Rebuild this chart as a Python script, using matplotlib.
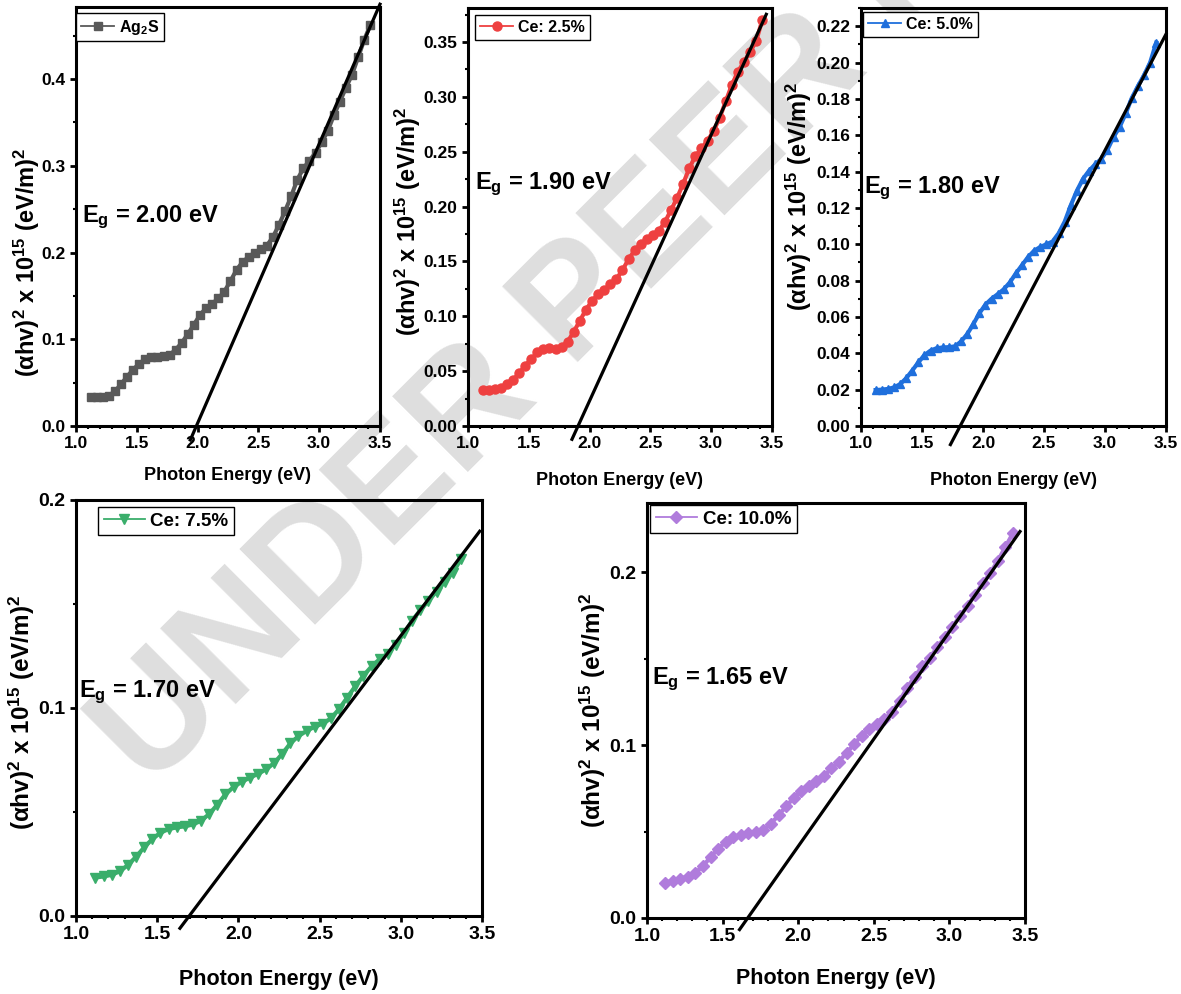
import matplotlib
matplotlib.use("Agg")
import matplotlib.pyplot as plt
from matplotlib.ticker import MultipleLocator, AutoMinorLocator, FormatStrFormatter
import numpy as np

# photon energy grid (eV)
energy = [1.12, 1.17, 1.22, 1.27, 1.32, 1.37, 1.42, 1.47, 1.52, 1.57,
          1.62, 1.67, 1.72, 1.77, 1.82, 1.87, 1.92, 1.97, 2.02, 2.07,
          2.12, 2.17, 2.22, 2.27, 2.32, 2.37, 2.42, 2.47, 2.52, 2.57,
          2.62, 2.67, 2.72, 2.77, 2.82, 2.87, 2.92, 2.97, 3.02, 3.07,
          3.12, 3.17, 3.22, 3.27, 3.32, 3.37, 3.42]

y_ag2s = [0.033, 0.033, 0.034, 0.035, 0.040, 0.048, 0.057, 0.065, 0.072, 0.077,
          0.0795, 0.080, 0.0805, 0.082, 0.088, 0.096, 0.106, 0.117, 0.128, 0.136,
          0.141, 0.147, 0.155, 0.167, 0.180, 0.189, 0.195, 0.200, 0.204, 0.208,
          0.218, 0.232, 0.248, 0.265, 0.284, 0.297, 0.306, 0.315, 0.327, 0.340,
          0.358, 0.374, 0.390, 0.405, 0.425, 0.445, 0.462]

y_ce25 = [0.033, 0.033, 0.0335, 0.035, 0.038, 0.042, 0.048, 0.055, 0.061, 0.067,
          0.0705, 0.071, 0.0705, 0.072, 0.077, 0.086, 0.096, 0.106, 0.114, 0.120,
          0.124, 0.129, 0.134, 0.142, 0.152, 0.160, 0.166, 0.170, 0.174, 0.178,
          0.186, 0.197, 0.208, 0.221, 0.235, 0.246, 0.253, 0.260, 0.269, 0.281,
          0.296, 0.311, 0.323, 0.332, 0.341, 0.351, 0.370]

y_ce50 = [0.0198, 0.0200, 0.0204, 0.0212, 0.0230, 0.0262, 0.0305, 0.0350, 0.0390, 0.0415,
          0.0428, 0.0432, 0.0434, 0.0438, 0.0465, 0.0505, 0.0560, 0.0620, 0.0668, 0.0700,
          0.0725, 0.0752, 0.0790, 0.0840, 0.0885, 0.0930, 0.0965, 0.0985, 0.1000, 0.1015,
          0.1060, 0.1125, 0.1215, 0.1295, 0.1360, 0.1405, 0.1440, 0.1470, 0.1520, 0.1590,
          0.1645, 0.1720, 0.1805, 0.1870, 0.1930, 0.2000, 0.2110]

y_ce75 = [0.0185, 0.0190, 0.0198, 0.0215, 0.0245, 0.0285, 0.0330, 0.0370, 0.0400, 0.0418,
          0.0426, 0.0431, 0.0440, 0.0458, 0.0490, 0.0535, 0.0585, 0.0620, 0.0645, 0.0665,
          0.0683, 0.0705, 0.0735, 0.0780, 0.0830, 0.0865, 0.0890, 0.0910, 0.0925, 0.0950,
          0.0995, 0.1050, 0.1105, 0.1155, 0.1200, 0.1235, 0.1262, 0.1305, 0.1360, 0.1420,
          0.1470, 0.1515, 0.1560, 0.1605, 0.1650, 0.1715, np.nan]

y_ce100 = [0.0205, 0.0215, 0.0228, 0.0240, 0.0262, 0.0300, 0.0352, 0.0400, 0.0440, 0.0468,
           0.0482, 0.0490, 0.0497, 0.0510, 0.0545, 0.0595, 0.0645, 0.0695, 0.0735, 0.0762,
           0.0790, 0.0822, 0.0865, 0.0905, 0.0955, 0.1005, 0.1055, 0.1095, 0.1120, 0.1150,
           0.1190, 0.1255, 0.1330, 0.1395, 0.1455, 0.1505, 0.1565, 0.1625, 0.1685, 0.1745,
           0.1805, 0.1870, 0.1935, 0.1995, 0.2065, 0.2145, 0.2225]

series = [y_ag2s, y_ce25, y_ce50, y_ce75, y_ce100]
labels = ["Ag$_2$S", "Ce: 2.5%", "Ce: 5.0%", "Ce: 7.5%", "Ce: 10.0%"]
eg_text = ["2.00", "1.90", "1.80", "1.70", "1.65"]
# Tauc fit lines: x-intercept, slope, drawn x-range
fit_x0 = [1.99, 1.905, 1.813, 1.697, 1.666]
fit_slope = [0.322, 0.2424, 0.1278, 0.1034, 0.1241]
fit_range = [(1.94, 3.5), (1.855, 3.453), (1.733, 3.5), (1.64, 3.486), (1.612, 3.467)]
y_top = [0.483, 0.381, 0.230, 0.200, 0.240]
y_step = [0.1, 0.05, 0.02, 0.1, 0.1]
y_fmt = ["%.1f", "%.2f", "%.2f", "%.1f", "%.1f"]

markers = ["s", "o", "^", "v", "D"]
colors = ["#595959", "#ee4040", "#1f6fdc", "#3aae6b", "#b07cdc"]
msize = [6, 6.5, 6, 7.5, 6.5]

plt.rcParams["font.family"] = "Liberation Sans"
plt.rcParams["font.weight"] = "bold"
plt.rcParams["axes.labelweight"] = "bold"
plt.rcParams["mathtext.fontset"] = "custom"
plt.rcParams["mathtext.rm"] = "Liberation Sans"
plt.rcParams["mathtext.bf"] = "Liberation Sans:bold"
plt.rcParams["mathtext.default"] = "bf"

W, H = 1181, 994
fig = plt.figure(figsize=(W / 100, H / 100), dpi=100)


def rect(l, t, r, b):
    return [l / W, 1 - b / H, (r - l) / W, (b - t) / H]


boxes = [rect(76, 7, 380, 426), rect(468, 8, 772, 426), rect(861, 8, 1166, 426),
         rect(76, 500, 482, 916), rect(647, 503, 1025, 918)]
top_row = [True, True, True, False, False]
leg_pos = [(0.0, 0.986), (0.023, 0.983), (0.007, 0.99), (0.054, 0.983), (0.008, 0.995)]
eg_pos = [(1.05, 0.235), (1.058, 0.216), (1.025, 0.128), (1.018, 0.105), (1.033, 0.135)]
ylab_x = [-0.112, -0.148, -0.154, -0.096, -0.103]
ylab_y = [0.39, 0.49, 0.55, 0.49, 0.50]
xlab_y = [-0.098, -0.11, -0.11, -0.127, -0.12]

# watermark behind the panels
fig.text(150 / W, 1 - 791 / H, "UNDER PEER REVIEW", rotation=45, rotation_mode="anchor",
         ha="left", va="baseline", fontsize=112, color="#dedede",
         weight="bold", zorder=-5)

for i in range(5):
    ax = fig.add_axes(boxes[i])
    ax.set_facecolor("none")
    top = top_row[i]
    ax.plot(energy, series[i], "-", lw=3, marker=markers[i], ms=msize[i],
            color=colors[i], mec=colors[i], label=labels[i])
    x0 = fit_x0[i]
    xa, xb = fit_range[i]
    ax.plot([xa, xb], [fit_slope[i] * (xa - x0), fit_slope[i] * (xb - x0)],
            "-k", lw=2.3, clip_on=False, zorder=3)

    ax.set_xlim(1.0, 3.5)
    ax.set_ylim(0, y_top[i])
    ax.xaxis.set_major_locator(MultipleLocator(0.5))
    ax.xaxis.set_minor_locator(AutoMinorLocator(5))
    ax.xaxis.set_major_formatter(FormatStrFormatter("%.1f"))
    ax.yaxis.set_major_locator(MultipleLocator(y_step[i]))
    ax.yaxis.set_minor_locator(AutoMinorLocator(2))
    ax.yaxis.set_major_formatter(FormatStrFormatter(y_fmt[i]))

    for s in ax.spines.values():
        s.set_linewidth(2.2)
    ax.tick_params(which="major", direction="out", length=4.5, width=2,
                   labelsize=12.5 if top else 14, pad=3)
    ax.tick_params(which="minor", direction="out", length=2.5, width=1.5)

    ax.set_xlabel("Photon Energy (eV)", fontsize=13 if top else 15.5)
    ax.xaxis.set_label_coords(0.5, xlab_y[i])
    ax.xaxis.label.set_va("top")
    ax.set_ylabel("(αhv)$^{2}$ x 10$^{15}$ (eV/m)$^{2}$", fontsize=17 if top else 17.5)
    ax.yaxis.set_label_coords(ylab_x[i], ylab_y[i])

    ax.text(eg_pos[i][0], eg_pos[i][1], "E$_{g}$ = " + eg_text[i] + " eV",
            fontsize=17, ha="left", va="baseline")

    leg = ax.legend(loc="upper left", bbox_to_anchor=leg_pos[i], borderaxespad=0,
                    fancybox=False, edgecolor="black", framealpha=1,
                    borderpad=0.3, handlelength=2.1 if top else 2.2,
                    handletextpad=0.3, fontsize=11.5 if top else 13.5)
    leg.get_frame().set_linewidth(1.0)
    for ln in leg.get_lines():
        ln.set_linewidth(1.3)

fig.savefig("out.png", dpi=100)
